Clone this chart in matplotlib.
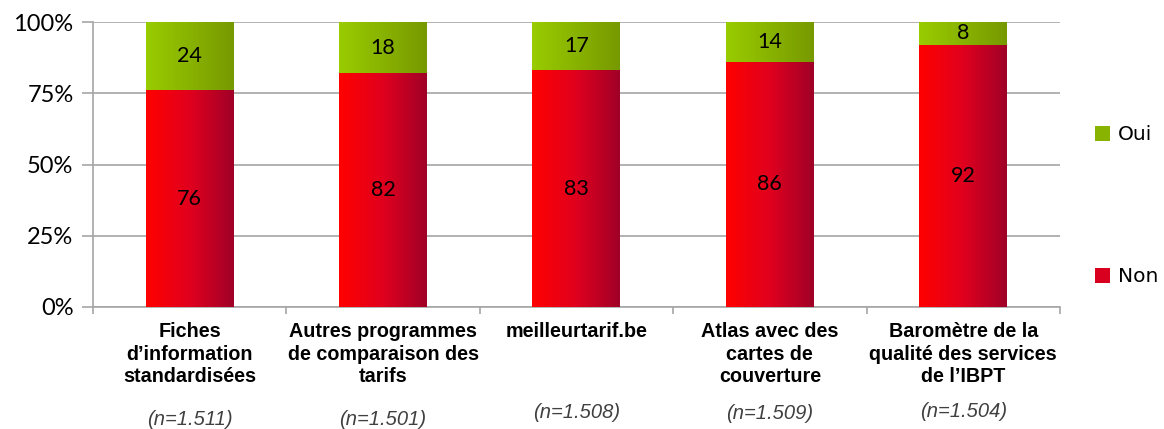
import numpy as np
import matplotlib.pyplot as plt
from matplotlib.colors import LinearSegmentedColormap
from matplotlib.patches import Patch
import matplotlib.ticker as mticker

categories = ["Fiches\nd\u2019information\nstandardisées",
              "Autres programmes\nde comparaison des\ntarifs",
              "meilleurtarif.be",
              "Atlas avec des\ncartes de\ncouverture",
              "Baromètre de la\nqualité des services\nde l\u2019IBPT"]
n_labels = ["(n=1.511)", "(n=1.501)", "(n=1.508)", "(n=1.509)", "(n=1.504)"]
non = [76, 82, 83, 86, 92]
oui = [24, 18, 17, 14, 8]

red_cmap = LinearSegmentedColormap.from_list("red", ["#FF0000", "#E0001E", "#A00028"])
green_cmap = LinearSegmentedColormap.from_list("green", ["#99CC00", "#779900"])
grid_col = "#A6A6A6"

fig = plt.figure(figsize=(11.64, 4.29), dpi=100)
ax = fig.add_axes([0.0799, 0.2844, 0.8307, 0.6643])

x = np.arange(len(categories))
width = 0.455
grad = np.linspace(0, 1, 256).reshape(1, -1)


def gradient_bars(bars, cmap):
    for b in bars:
        x0, y0 = b.get_x(), b.get_y()
        im = ax.imshow(grad, cmap=cmap, aspect="auto", zorder=3,
                       extent=[x0, x0 + b.get_width(), y0, y0 + b.get_height()])
        im.set_clip_path(b)


bars_non = ax.bar(x, non, width, facecolor="none", edgecolor="none", zorder=3)
bars_oui = ax.bar(x, oui, width, bottom=non, facecolor="none", edgecolor="none", zorder=3)
gradient_bars(bars_non, red_cmap)
gradient_bars(bars_oui, green_cmap)

for i in range(len(x)):
    ax.text(x[i], non[i] / 2, str(non[i]), ha="center", va="center",
            fontsize=15.5, family="Lato", zorder=4)
    ax.text(x[i], non[i] + oui[i] / 2, str(oui[i]), ha="center", va="center",
            fontsize=15.5, family="Lato", zorder=4)

ax.set_xlim(-0.5, len(x) - 0.5)
ax.set_ylim(0, 100)
ax.yaxis.set_major_locator(mticker.MultipleLocator(25))
ax.yaxis.set_major_formatter(mticker.FuncFormatter(lambda v, p: f"{int(v)}%"))
ax.grid(True, axis="y", color=grid_col, linewidth=1.2, zorder=0)
ax.set_axisbelow(True)

for s in ["top", "right"]:
    ax.spines[s].set_visible(False)
for s in ["left", "bottom"]:
    ax.spines[s].set_color(grid_col)
    ax.spines[s].set_linewidth(1.2)

ax.set_xticks(x)
ax.set_xticklabels(categories, fontsize=14.2, fontweight="bold",
                   family="Liberation Sans", linespacing=1.22)
ax.set_xticks(np.arange(len(x) + 1) - 0.5, minor=True)
ax.tick_params(axis="x", which="major", length=0, pad=11)
ax.tick_params(axis="x", which="minor", length=5, color=grid_col, width=1.2)
ax.tick_params(axis="y", length=8, color=grid_col, width=1.2, labelsize=17, pad=6)
for lab in ax.get_yticklabels():
    lab.set_family("Lato")

n_offsets = [-0.395, -0.395, -0.37, -0.375, -0.365]
for i, lab in enumerate(n_labels):
    ax.text(x[i], n_offsets[i], lab, transform=ax.get_xaxis_transform(),
            ha="center", va="center", fontsize=14.5, style="italic",
            family="Liberation Sans", color="#404040")

handles = [Patch(facecolor="#88B300", label="Oui"),
           Patch(facecolor="#D8001E", label="Non")]
fig.legend(handles=handles, loc="upper left", bbox_to_anchor=(0.925, 0.75),
           frameon=False, handlelength=0.75, handleheight=0.75,
           handletextpad=0.4, labelspacing=6.1, prop={"family": "DejaVu Sans", "size": 14.5})

plt.savefig("out.png", dpi=100, facecolor="white")
